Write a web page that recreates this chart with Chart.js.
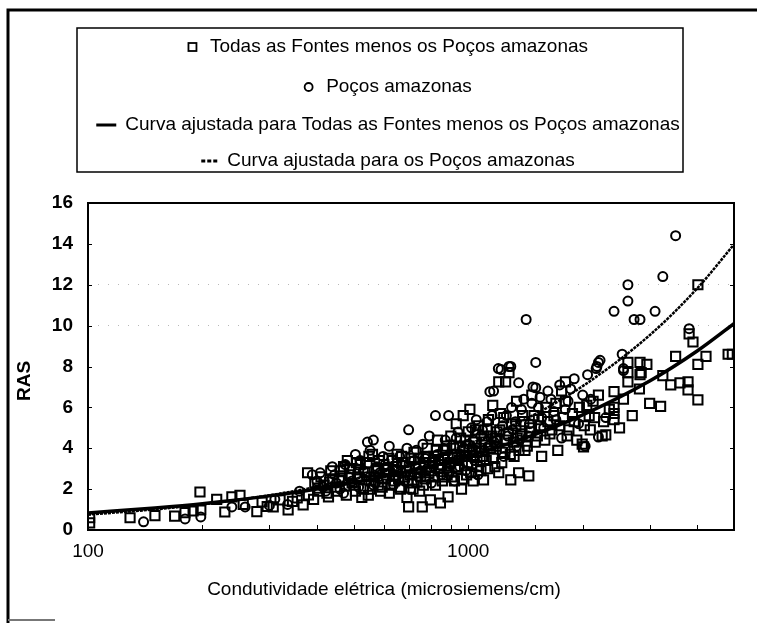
<!DOCTYPE html>
<html lang="pt">
<head>
<meta charset="utf-8">
<title>RAS x Condutividade elétrica</title>
<script src="https://cdn.jsdelivr.net/npm/chart.js@4.4.1/dist/chart.umd.min.js"></script>
<style>
  html, body { margin: 0; padding: 0; background: #fff; }
  #grafico { display: block; }
</style>
</head>
<body>
<canvas id="grafico" width="757" height="623"></canvas>
<script>
// Todas as fontes menos os poços amazonas: [CE (microsiemens/cm), RAS]
const fontes = [
  [101, 0.35], [101, 0.6], [129, 0.6], [150, 0.7], [169, 0.68], [180, 0.85], [189, 0.93], [197, 1.86],
  [198, 0.98], [218, 1.5], [229, 0.88], [239, 1.62], [251, 1.7], [256, 1.25], [278, 0.9], [287, 1.37],
  [296, 1.15], [307, 1.13], [320, 1.47], [336, 0.98], [345, 1.4], [355, 1.57], [368, 1.23], [380, 1.72],
  [378, 2.8], [392, 1.5], [405, 1.9], [418, 2.2], [429, 1.62], [440, 2.5], [452, 1.9], [462, 2.9],
  [481, 3.4], [488, 3.0], [495, 2.3], [505, 1.9], [512, 2.6], [520, 3.2], [530, 2.0], [546, 1.7],
  [548, 3.6], [555, 2.4], [560, 3.7], [572, 2.9], [580, 2.2], [594, 2.1], [600, 3.2], [610, 2.7],
  [620, 1.8], [632, 3.4], [640, 2.4], [652, 2.9], [660, 2.1], [668, 3.6], [680, 2.6], [690, 1.6],
  [697, 1.13], [700, 3.1], [712, 2.3], [720, 3.8], [735, 2.8], [745, 1.9], [757, 1.13], [765, 3.3],
  [770, 2.5], [780, 4.0], [795, 1.47], [800, 2.9], [812, 3.6], [820, 2.2], [830, 4.4], [845, 1.32],
  [850, 3.2], [860, 2.6], [870, 3.9], [885, 1.62], [890, 2.9], [900, 4.6], [910, 3.5], [920, 2.4],
  [930, 5.2], [940, 3.0], [950, 4.1], [960, 2.0], [970, 5.6], [980, 3.6], [990, 2.7], [1000, 4.8],
  [1010, 5.9], [1020, 3.2], [1030, 2.4], [1040, 4.3], [1050, 3.8], [1065, 5.1], [1080, 2.9], [1097, 2.45],
  [1100, 4.6], [1115, 3.4], [1130, 5.4], [1145, 4.0], [1160, 6.1], [1175, 3.1], [1190, 4.8], [1203, 7.25],
  [1203, 2.8], [1215, 5.7], [1230, 3.8], [1254, 7.25], [1260, 4.4], [1280, 7.7], [1294, 2.45], [1300, 5.2],
  [1320, 3.6], [1340, 6.3], [1357, 2.8], [1370, 4.6], [1390, 5.6], [1410, 3.9], [1443, 2.65], [1450, 5.0],
  [1470, 6.6], [1500, 4.3], [1530, 5.4], [1560, 3.6], [1600, 6.0], [1640, 4.7], [1680, 5.6], [1720, 3.9],
  [1760, 6.8], [1802, 7.25], [1802, 6.3], [1840, 4.9], [1880, 5.7], [1930, 4.4], [1994, 4.2], [2010, 4.07],
  [2050, 6.1], [2094, 4.9], [2150, 5.5], [2200, 6.6], [2250, 4.6], [2300, 4.65], [2350, 5.9], [2418, 6.77],
  [2418, 6.0], [2418, 5.7], [2418, 5.4], [2500, 5.0], [2560, 6.4], [2630, 8.2], [2630, 7.7], [2630, 7.25],
  [2700, 5.6], [2830, 8.2], [2830, 7.6], [2820, 6.9], [2850, 7.7], [2950, 8.1], [3000, 6.2], [3206, 6.05],
  [3249, 7.55], [3409, 7.1], [3511, 8.5], [3605, 7.2], [3785, 7.25], [3785, 6.86], [3810, 9.6], [3900, 9.2],
  [4018, 8.1], [4018, 6.37], [4018, 12.0], [4220, 8.5], [4825, 8.6], [4950, 8.6],
  [395, 2.3], [410, 2.6], [425, 1.8], [435, 2.9], [448, 2.1], [458, 2.4], [470, 3.1], [478, 1.7],
  [490, 2.7], [500, 2.2], [508, 3.3], [518, 2.5], [525, 1.6], [535, 2.8], [542, 3.3], [552, 2.0],
  [565, 2.6], [578, 3.0], [588, 1.9], [598, 2.5], [606, 2.95], [618, 3.5], [626, 2.2], [636, 2.7],
  [646, 3.1], [656, 2.5], [664, 2.0], [675, 3.3], [685, 2.9], [695, 2.4], [708, 3.5], [716, 2.0],
  [728, 3.0], [740, 3.5], [750, 2.6], [762, 2.2], [775, 3.6], [788, 2.8], [805, 3.3], [815, 2.6],
  [825, 3.9], [838, 3.0], [855, 2.4], [866, 3.5], [878, 4.1], [895, 3.3], [905, 2.6], [915, 4.0],
  [925, 3.1], [945, 3.4], [955, 4.5], [965, 2.5], [975, 3.9], [995, 3.3], [1005, 4.1], [1015, 2.8],
  [1035, 3.6], [1045, 4.9], [1055, 3.1], [1070, 4.0], [1090, 3.6], [1110, 4.3], [1125, 3.0], [1150, 4.6],
  [1165, 3.5], [1185, 4.1], [1210, 4.9], [1225, 3.3], [1250, 4.0], [1275, 4.7], [1290, 3.7], [1315, 4.3],
  [1335, 5.1], [1360, 3.9], [1385, 4.7], [1400, 5.3], [1430, 4.1], [1460, 4.8], [1490, 5.6], [1520, 4.6],
  [1550, 5.1], [1590, 4.4], [1620, 5.3], [1660, 4.9], [1700, 6.2], [1740, 5.1], [1780, 5.5], [1820, 4.6],
  [1900, 5.3], [1960, 6.0], [2020, 5.1], [2080, 5.6], [2130, 6.3], [2270, 5.3],
  [402, 2.05], [432, 2.35], [466, 2.55], [515, 2.95], [583, 3.4], [615, 2.95], [650, 3.7], [703, 2.7],
  [733, 2.35], [790, 3.1], [835, 3.4], [880, 2.7], [935, 3.7], [985, 4.4], [1025, 3.9], [1075, 3.4],
  [1120, 4.9], [1180, 4.5], [1240, 5.5], [1345, 4.5]
];

// Poços amazonas: [CE (microsiemens/cm), RAS]
const pocos = [
  [140, 0.4], [180, 0.54], [198, 0.64], [239, 1.13], [259, 1.13], [300, 1.2], [310, 1.5], [335, 1.25],
  [360, 1.9], [389, 2.7], [408, 2.8], [415, 2.1], [439, 3.1], [450, 2.3], [470, 1.8], [485, 2.6],
  [505, 3.7], [515, 2.1], [530, 2.9], [543, 4.3], [563, 4.4], [563, 2.2], [575, 3.1], [597, 3.6],
  [610, 2.5], [636, 2.2], [650, 3.3], [670, 2.8], [690, 4.0], [697, 4.9], [705, 2.0], [720, 3.4],
  [740, 2.6], [760, 4.2], [780, 3.0], [800, 2.3], [820, 5.6], [830, 3.7], [850, 2.7], [870, 4.4],
  [888, 5.6], [900, 3.2], [920, 2.4], [940, 4.8], [960, 3.6], [985, 2.9], [1000, 4.2], [1020, 5.0],
  [1040, 3.4], [1060, 2.7], [1080, 4.6], [1100, 3.9], [1120, 5.3], [1140, 6.77], [1166, 6.8], [1170, 4.3],
  [1200, 7.9], [1220, 7.85], [1240, 3.6], [1260, 5.6], [1280, 8.0], [1294, 8.0], [1310, 4.9], [1340, 4.1],
  [1357, 7.2], [1380, 5.9], [1420, 10.3], [1440, 4.6], [1470, 6.2], [1505, 8.2], [1505, 6.96], [1545, 6.5],
  [1580, 5.0], [1650, 6.4], [1700, 5.4], [1760, 4.5], [1800, 5.9], [1860, 6.9], [1950, 5.2], [2030, 4.1],
  [2100, 6.4], [2170, 7.9], [2180, 8.0], [2200, 8.2], [2200, 4.55], [2222, 8.3], [2300, 5.5], [2418, 10.7],
  [2540, 8.6], [2560, 7.9], [2560, 7.8], [2630, 12.0], [2630, 11.2], [2730, 10.3], [2830, 10.3], [3100, 10.7],
  [3249, 12.4], [3511, 14.4], [3810, 9.85],
  [400, 2.4], [422, 1.9], [445, 2.7], [460, 2.0], [475, 3.2], [495, 2.4], [520, 3.4], [540, 2.6],
  [552, 3.9], [570, 2.3], [585, 2.8], [605, 3.2], [620, 4.1], [645, 2.6], [660, 3.6], [680, 2.4],
  [700, 3.0], [730, 3.9], [750, 2.9], [770, 3.5], [790, 4.6], [810, 3.1], [840, 3.4], [860, 4.0],
  [880, 3.0], [910, 3.7], [930, 4.5], [950, 3.1], [975, 4.0], [995, 3.6], [1030, 4.4], [1050, 5.4],
  [1070, 3.8], [1090, 4.9], [1130, 4.1], [1155, 5.6], [1190, 4.4], [1230, 5.1], [1270, 4.6], [1300, 6.0],
  [1330, 5.3], [1365, 4.4], [1400, 6.4], [1450, 5.2], [1480, 7.0], [1530, 6.0], [1560, 5.5], [1620, 6.8],
  [1680, 5.8], [1740, 7.1], [1830, 6.3], [1900, 7.4], [2000, 6.6], [2060, 7.6]
];

// curvas ajustadas, lidas ao longo do eixo de CE
const curvaCE = [100, 150, 200, 300, 400, 500, 700, 1000, 1500, 2000, 3000, 4000, 5000];
const curvaFontes = [0.83, 1.08, 1.29, 1.67, 2.01, 2.32, 2.88, 3.61, 4.68, 5.63, 7.29, 8.76, 10.1];
const curvaPocos = [0.75, 1.01, 1.25, 1.70, 2.11, 2.49, 3.20, 4.19, 5.67, 7.04, 9.53, 11.82, 13.97];

const xTickLabels = [100, 1000];
const yTicks = [0, 2, 4, 6, 8, 10, 12, 14, 16];
const yGrade = [10, 12]; // linhas de grade pontilhadas

const toXY = pares => pares.map(p => ({ x: p[0], y: p[1] }));
const curva = ys => curvaCE.map((x, i) => ({ x: x, y: ys[i] }));

Chart.defaults.font.family = "'Liberation Sans', Arial, Helvetica, sans-serif";
Chart.defaults.color = '#000';

// moldura, legenda em caixa e titulos dos eixos
const moldura = {
    id: 'moldura',
    beforeDraw(chart) {
        const ctx = chart.ctx;
        ctx.save();
        ctx.fillStyle = '#fff';
        ctx.fillRect(0, 0, chart.width, chart.height);
        ctx.restore();
    },
    afterDraw(chart) {
        const ctx = chart.ctx;
        const a = chart.chartArea;
        const xs = chart.scales.x, ys = chart.scales.y;
        ctx.save();
        ctx.strokeStyle = '#000';

        // caixa do grafico
        ctx.lineWidth = 2;
        ctx.strokeRect(a.left, a.top, a.right - a.left, a.bottom - a.top);

        // marcas internas
        ctx.lineWidth = 1;
        ctx.beginPath();
        yTicks.forEach(v => {
            const py = Math.round(ys.getPixelForValue(v)) + 0.5;
            ctx.moveTo(a.left, py); ctx.lineTo(a.left + 4, py);
            ctx.moveTo(a.right - 4, py); ctx.lineTo(a.right, py);
        });
        xs.ticks.forEach(t => {
            const px = Math.round(xs.getPixelForValue(t.value)) + 0.5;
            ctx.moveTo(px, a.bottom); ctx.lineTo(px, a.bottom - 5);
        });
        ctx.stroke();

        // moldura externa
        ctx.lineWidth = 3;
        ctx.beginPath();
        ctx.moveTo(8, chart.height); ctx.lineTo(8, 10); ctx.lineTo(chart.width, 10);
        ctx.stroke();
        ctx.strokeStyle = '#777';
        ctx.lineWidth = 2;
        ctx.beginPath();
        ctx.moveTo(8, 620); ctx.lineTo(55, 620);
        ctx.stroke();

        // legenda
        ctx.strokeStyle = '#000';
        ctx.lineWidth = 1.5;
        ctx.strokeRect(77, 28, 606, 144);
        const linhas = [47, 87, 125, 161];
        const centro = 388;
        ctx.font = "19px 'Liberation Sans', Arial, sans-serif";
        ctx.textBaseline = 'middle';
        ctx.textAlign = 'left';
        ctx.fillStyle = '#000';
        chart.data.datasets.forEach((ds, i) => {
            const y = linhas[i];
            const simbolo = ds.showLine ? (ds.borderDash ? 17 : 20) : 9;
            const gap = ds.showLine ? 9 : 13;
            const w = ctx.measureText(ds.label).width;
            let x = centro - (simbolo + gap + w) / 2;
            ctx.save();
            ctx.strokeStyle = '#000';
            if (ds.showLine) {
                ctx.lineWidth = 3;
                ctx.setLineDash(ds.borderDash ? [4, 2] : []);
                ctx.beginPath();
                ctx.moveTo(x, y); ctx.lineTo(x + simbolo, y);
                ctx.stroke();
            } else if (ds.pointStyle === 'rect') {
                ctx.lineWidth = 1.8;
                ctx.strokeRect(x + 0.5, y - 4, 8, 8);
            } else {
                ctx.lineWidth = 1.8;
                ctx.beginPath();
                ctx.arc(x + 4.5, y, 4, 0, Math.PI * 2);
                ctx.stroke();
            }
            ctx.restore();
            ctx.fillText(ds.label, x + simbolo + gap, y);
        });

        // titulos dos eixos
        ctx.textAlign = 'center';
        ctx.font = "19px 'Liberation Sans', Arial, sans-serif";
        ctx.fillText('Condutividade elétrica (microsiemens/cm)', 384, 590);
        ctx.save();
        ctx.translate(25, 381);
        ctx.rotate(-Math.PI / 2);
        ctx.font = "bold 19px 'Liberation Sans', Arial, sans-serif";
        ctx.fillText('RAS', 0, 0);
        ctx.restore();

        ctx.restore();
    }
};

const ctx = document.getElementById('grafico').getContext('2d');

new Chart(ctx, {
    type: 'scatter',
    data: {
        datasets: [{
            label: 'Todas as Fontes menos os Poços amazonas',
            data: toXY(fontes),
            pointStyle: 'rect',
            pointRadius: 6.5,
            pointBorderWidth: 2,
            borderColor: '#000',
            backgroundColor: 'rgba(0,0,0,0)',
            order: 3
        }, {
            label: 'Poços amazonas',
            data: toXY(pocos),
            pointStyle: 'circle',
            pointRadius: 4.5,
            pointBorderWidth: 2,
            borderColor: '#000',
            backgroundColor: 'rgba(0,0,0,0)',
            order: 2
        }, {
            label: 'Curva ajustada para Todas as Fontes menos os Poços amazonas',
            data: curva(curvaFontes),
            showLine: true,
            borderColor: '#000',
            borderWidth: 3.5,
            pointRadius: 0,
            cubicInterpolationMode: 'monotone',
            order: 1
        }, {
            label: 'Curva ajustada para os Poços amazonas',
            data: curva(curvaPocos),
            showLine: true,
            borderColor: '#000',
            borderWidth: 2.5,
            borderDash: [3, 1],
            pointRadius: 0,
            cubicInterpolationMode: 'monotone',
            order: 0
        }]
    },
    options: {
        responsive: false,
        animation: false,
        layout: { padding: { top: 203, right: 23, left: 0, bottom: 0 } },
        plugins: {
            legend: { display: false },
            tooltip: { enabled: false }
        },
        scales: {
            x: {
                type: 'logarithmic',
                min: 100,
                max: 5000,
                afterFit: s => { s.height = 93; },
                grid: { display: false, drawTicks: false },
                border: { display: false },
                ticks: {
                    autoSkip: false,
                    maxRotation: 0,
                    padding: 10,
                    font: { size: 19 },
                    callback: v => xTickLabels.includes(v) ? String(v) : ''
                }
            },
            y: {
                min: 0,
                max: 16,
                afterFit: s => { s.width = 88; },
                grid: {
                    drawTicks: false,
                    lineWidth: 1,
                    color: c => yGrade.includes(c.tick.value) ? '#b8b8b8' : 'rgba(0,0,0,0)'
                },
                border: { display: false, dash: [1, 9] },
                ticks: {
                    stepSize: 2,
                    padding: 15,
                    font: { size: 19, weight: 'bold' }
                }
            }
        }
    },
    plugins: [moldura]
});
</script>
</body>
</html>
